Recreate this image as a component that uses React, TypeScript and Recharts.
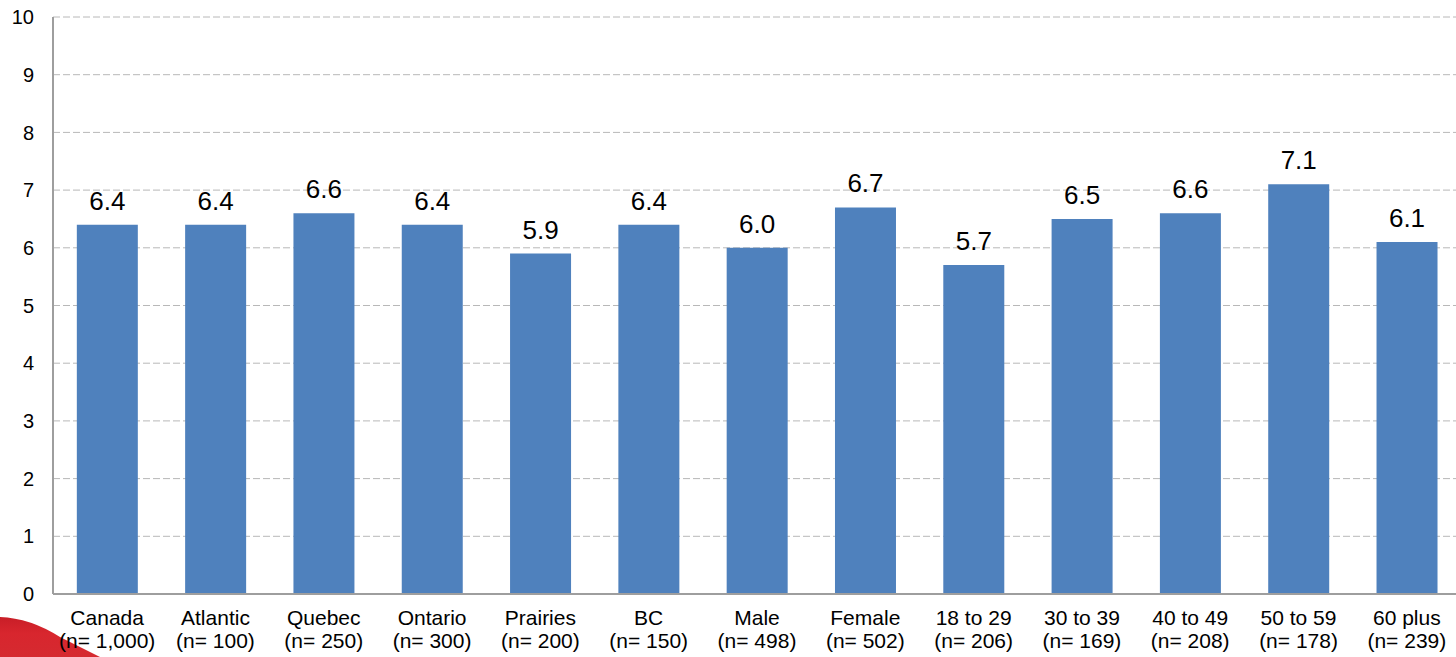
import { Bar, BarChart, CartesianGrid, LabelList, XAxis, YAxis } from 'recharts'

// mean score by region, gender and age group
const groups = ['Canada', 'Atlantic', 'Quebec', 'Ontario', 'Prairies', 'BC', 'Male', 'Female', '18 to 29', '30 to 39', '40 to 49', '50 to 59', '60 plus']
const sampleSizes = ['1,000', '100', '250', '300', '200', '150', '498', '502', '206', '169', '208', '178', '239']
const scores = [6.4, 6.4, 6.6, 6.4, 5.9, 6.4, 6.0, 6.7, 5.7, 6.5, 6.6, 7.1, 6.1]
const yTicks = [0, 1, 2, 3, 4, 5, 6, 7, 8, 9, 10]

const rows = groups.map((g, i) => ({ group: g, n: sampleSizes[i], score: scores[i] }))

const FONT = '"Liberation Sans", Arial, sans-serif'

// two-line category label: name, then sample size
const GroupTick = (props: any) => {
    const { x, y, payload, index } = props
    return (
        <text x={x} y={y} textAnchor="middle" fontSize={21} fontFamily={FONT} fill="#000">
            <tspan x={x} dy={31}>{payload.value}</tspan>
            <tspan x={x} dy={23}>{`(n= ${sampleSizes[index]})`}</tspan>
        </text>
    )
}

export default function App() {
    return (
        <div style={{ position: 'absolute', left: 0, top: 0, width: 1456, height: 657, overflow: 'hidden', background: '#fff' }}>
            {/* red corner swoosh */}
            <svg width={1456} height={657} style={{ position: 'absolute', left: 0, top: 0 }}>
                <defs>
                    <linearGradient id="swoosh" x1="0" y1="0" x2="0" y2="1">
                        <stop offset="0" stopColor="#C81E27" />
                        <stop offset="0.4" stopColor="#D8262E" />
                        <stop offset="1" stopColor="#D52A30" />
                    </linearGradient>
                </defs>
                <path d="M0,617 Q30,618 60,637 L102,658 L0,658 Z" fill="url(#swoosh)" />
            </svg>
            <div style={{ position: 'absolute', left: 0, top: 0 }}>
                <BarChart width={1470} height={657} data={rows}
                    margin={{ top: 17, right: 9, left: 0, bottom: 0 }}
                    barCategoryGap="22%">
                    <CartesianGrid vertical={false} stroke="#B8B8B8" strokeDasharray="7 3" />
                    <XAxis dataKey="group" interval={0} height={63} tickLine={false} tickSize={0} tickMargin={0}
                        axisLine={{ stroke: '#9E9E9E', strokeWidth: 2 }} tick={<GroupTick />} />
                    <YAxis domain={[0, 10]} ticks={yTicks} width={53} tickLine={false} tickSize={0} tickMargin={19}
                        axisLine={{ stroke: '#9E9E9E', strokeWidth: 2 }}
                        tick={{ fontSize: 20, fontFamily: FONT, fill: '#000' }} />
                    <Bar dataKey="score" fill="#4F81BD" isAnimationActive={false}>
                        <LabelList dataKey="score" position="top" offset={15}
                            formatter={(v: any) => Number(v).toFixed(1)}
                            style={{ fontSize: 26, fontFamily: FONT, fill: '#000' }} />
                    </Bar>
                </BarChart>
            </div>
        </div>
    )
}
